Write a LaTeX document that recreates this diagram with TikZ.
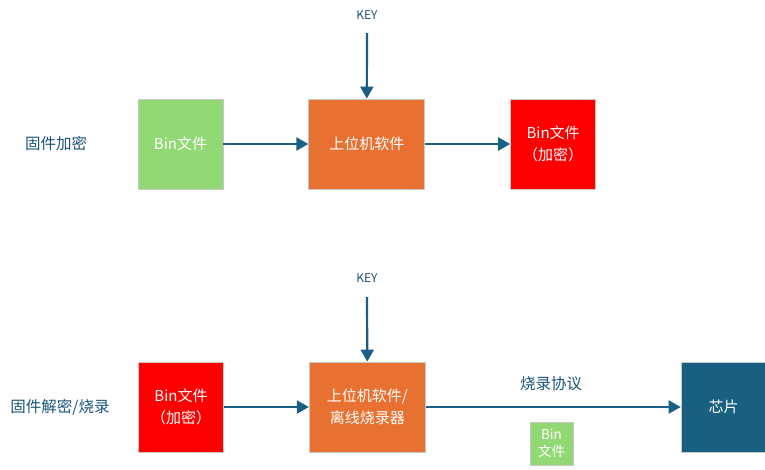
\documentclass[tikz,border=0pt]{standalone}
\usepackage{fontspec}
\setmainfont{Noto Sans CJK SC}
\usepackage{xcolor}
\usetikzlibrary{arrows.meta,positioning}

\definecolor{binGreen}{RGB}{146,216,116}
\definecolor{pcOrange}{RGB}{232,113,50}
\definecolor{encRed}{RGB}{255,0,0}
\definecolor{chipBlue}{RGB}{24,95,128}
\definecolor{linkBlue}{RGB}{26,96,132}
\definecolor{textBlue}{RGB}{28,84,120}
\definecolor{edgeGray}{RGB}{200,200,200}

\tikzset{
    box/.style={draw=edgeGray, line width=0.8pt, minimum width=85pt, minimum height=90pt,
        inner sep=0pt, align=center, text=white, font=\fontsize{15}{22}\selectfont},
    link/.style={draw=linkBlue, line width=2.2pt, -{Triangle[length=12pt,width=13pt]}},
    keytext/.style={text=textBlue, font=\fontsize{12}{14}\selectfont},
    rowtext/.style={text=textBlue, font=\fontsize{15.5}{18}\selectfont}
}

\begin{document}
\begin{tikzpicture}[x=1pt,y=-1pt]
    \useasboundingbox (0,0) rectangle (765,469);

    % encryption row
    \node[box, fill=binGreen] (bin) at (180.5,144) {Bin文件};
    \node[box, fill=pcOrange, minimum width=116pt, right=85pt of bin] (pc) {上位机软件};
    \node[box, fill=encRed, right=85pt of pc] (enc) {Bin文件\\（加密）};
    \node[keytext] (key1) at (367,15) {KEY};
    \node[rowtext] (row1) at (56,144) {固件加密};

    \draw[link] (bin) -- (pc);
    \draw[link] (pc) -- (enc);
    \draw[link] (367,33) -- (pc.north);

    % decryption / programming row
    \node[box, fill=encRed] (enc2) at (181,407) {Bin文件\\（加密）};
    \node[box, fill=pcOrange, minimum width=116pt, right=85pt of enc2] (burner) {上位机软件/\\离线烧录器};
    \node[box, fill=chipBlue, right=255pt of burner] (chip) {芯片};
    \node[keytext] (key2) at (367,278) {KEY};
    \node[rowtext] (row2) at (60,407) {固件解密/烧录};
    \node[rowtext] (proto) at (551,384) {烧录协议};
    \node[box, fill=binGreen, minimum width=43pt, minimum height=43pt,
        font=\fontsize{13.5}{17}\selectfont] (binsmall) at (551.5,443.5) {Bin\\文件};

    \draw[link] (enc2) -- (burner);
    \draw[link] (burner) -- (chip);
    \draw[link] (367,297) -- (burner.north);
\end{tikzpicture}
\end{document}
